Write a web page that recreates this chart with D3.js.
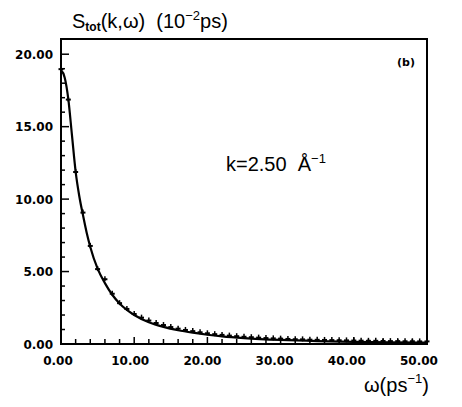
<!DOCTYPE html>
<html>
<head>
<meta charset="utf-8">
<script src="https://cdn.jsdelivr.net/npm/d3@7"></script>
<style>
    body { margin: 0; background: #fff; }
    .chart-skw text { fill: #000; white-space: pre; }
    .chart-skw__tickLabel { font-family: "DejaVu Sans", sans-serif; font-weight: bold; font-size: 12px; }
    .chart-skw__title { font-family: "Liberation Sans", Arial, sans-serif; font-size: 20px; }
</style>
</head>
<body>
<div id="chart"></div>
<script>
// DATA ---------------------------------------------------------------------
const omegaPoints = [0,1,2,3,4,5,6,7,8,9,10,11,12,13,14,15,16,17,18,19,20,21,22,23,24,25,
    26,27,28,29,30,31,32,33,34,35,36,37,38,39,40,41,42,43,44,45,46,47,48,49,50];
const sPoints = [18.9,16.8,11.8,9.0,6.7,5.1,4.4,3.4,2.75,2.35,2.0,1.75,1.55,1.38,1.24,1.1,0.99,0.9,0.82,0.74,
    0.67,0.61,0.56,0.51,0.47,0.43,0.4,0.37,0.34,0.32,0.3,0.28,0.26,0.25,0.23,0.22,0.21,0.2,0.19,0.18,
    0.17,0.16,0.15,0.15,0.14,0.13,0.13,0.12,0.12,0.11,0.11];

const omegaCurve = [0,0.5,1,1.5,2,2.5,3,3.5,4,5,6,7,8,9,10,12,14,16,18,20,22,25,30,35,40,45,50];
const sCurve = [18.9,18.4,16.9,14.4,11.9,10.2,8.9,7.7,6.7,5.2,4.2,3.4,2.8,2.35,2.0,1.5,1.18,0.95,0.78,0.64,0.53,0.41,0.28,0.2,0.15,0.12,0.1];

const xTicks = [0,10,20,30,40,50];
const yTicks = [0,5,10,15,20];
const xMinorStep = 2;
const yMinorStep = 1;
const yMax = 21.05;
// DATA ---------------------------------------------------------------------

const width = 462, height = 407;
const frame = { left: 61, right: 427, top: 39, bottom: 344 };

const svg = d3.select('#chart').append('svg')
    .attr('class', 'chart-skw')
    .attr('width', width)
    .attr('height', height);

const x = d3.scaleLinear().domain([0, 50]).range([frame.left, frame.right]);
const y = d3.scaleLinear().domain([0, yMax]).range([frame.bottom, frame.top]);

//FRAME & TICKS ---------------------------------------------------------------
svg.append('rect')
    .attr('x', frame.left).attr('y', frame.top)
    .attr('width', frame.right - frame.left).attr('height', frame.bottom - frame.top)
    .attr('fill', 'none').attr('stroke', '#000').attr('stroke-width', 2);

const xMinor = d3.range(0, 50.01, xMinorStep).filter(v => !xTicks.includes(v));
const yMinor = d3.range(0, 20.01, yMinorStep).filter(v => !yTicks.includes(v));

const ticks = svg.append('g').attr('stroke', '#000').attr('stroke-width', 1.5);
ticks.selectAll('.xt').data(xTicks.concat(xMinor)).enter().append('line')
    .attr('x1', d => x(d)).attr('x2', d => x(d))
    .attr('y1', frame.bottom).attr('y2', d => frame.bottom - (xTicks.includes(d) ? 7 : 5));
ticks.selectAll('.yt').data(yTicks.concat(yMinor)).enter().append('line')
    .attr('y1', d => y(d)).attr('y2', d => y(d))
    .attr('x1', frame.left).attr('x2', d => frame.left + (yTicks.includes(d) ? 8 : 4));

svg.selectAll('.xl').data(xTicks).enter().append('text')
    .attr('class', 'chart-skw__tickLabel')
    .attr('x', d => x(d) - d * 0.1 - 3).attr('y', 365)
    .attr('text-anchor', 'middle')
    .text(d => d3.format('.2f')(d));
svg.selectAll('.yl').data(yTicks).enter().append('text')
    .attr('class', 'chart-skw__tickLabel')
    .attr('x', 53).attr('y', d => y(d) + 4.5)
    .attr('text-anchor', 'end')
    .text(d => d3.format('.2f')(d));

//CURVE & POINTS -------------------------------------------------------------
const line = d3.line()
    .x((d, i) => x(omegaCurve[i]))
    .y(d => y(d))
    .curve(d3.curveMonotoneX);

svg.append('path')
    .datum(sCurve)
    .attr('d', line)
    .attr('fill', 'none').attr('stroke', '#000').attr('stroke-width', 2.2);

const marks = svg.append('g').attr('stroke', '#000').attr('stroke-width', 2);
marks.selectAll('.mh').data(sPoints).enter().append('line')
    .attr('x1', (d, i) => x(omegaPoints[i]) - 2.5).attr('x2', (d, i) => x(omegaPoints[i]) + 2.5)
    .attr('y1', d => y(d) - 1).attr('y2', d => y(d) - 1);
marks.selectAll('.mv').data(sPoints).enter().append('line')
    .attr('stroke-width', 1.5)
    .attr('x1', (d, i) => x(omegaPoints[i])).attr('x2', (d, i) => x(omegaPoints[i]))
    .attr('y1', d => y(d) - 4).attr('y2', d => y(d) + 1);

//TEXTS ----------------------------------------------------------------------
const title = svg.append('text').attr('class', 'chart-skw__title').attr('x', 72).attr('y', 28);
title.append('tspan').text('S');
title.append('tspan').attr('dy', 3).attr('font-size', 12).attr('font-weight', 'bold').text('tot');
title.append('tspan').attr('dy', -3).text('(k,ω)  (10');
title.append('tspan').attr('dy', -8).attr('font-size', 13).text('−2');
title.append('tspan').attr('dy', 8).text('ps)');

const xLabel = svg.append('text').attr('class', 'chart-skw__title').attr('x', 364).attr('y', 392);
xLabel.append('tspan').text('ω(ps');
xLabel.append('tspan').attr('dy', -9).attr('font-size', 13).text('−1');
xLabel.append('tspan').attr('dy', 9).text(')');

const kLabel = svg.append('text').attr('class', 'chart-skw__title').attr('x', 226).attr('y', 171);
kLabel.append('tspan').text('k=2.50  Å');
kLabel.append('tspan').attr('dy', -8).attr('font-size', 13).text('−1');

svg.append('text')
    .attr('x', 406).attr('y', 66)
    .attr('text-anchor', 'middle')
    .attr('font-family', 'DejaVu Sans, sans-serif')
    .attr('font-size', 11)
    .attr('font-weight', 'bold')
    .text('(b)');
</script>
</body>
</html>
